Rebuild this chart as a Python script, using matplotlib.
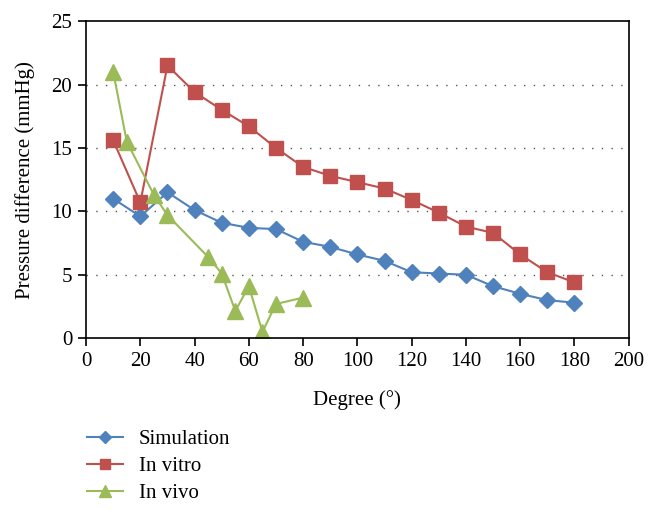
import matplotlib
matplotlib.use("Agg")
import matplotlib.pyplot as plt

# data
sim_x = [10, 20, 30, 40, 50, 60, 70, 80, 90, 100, 110, 120, 130, 140, 150, 160, 170, 180]
sim_y = [11.0, 9.6, 11.5, 10.1, 9.1, 8.7, 8.6, 7.6, 7.2, 6.6, 6.1, 5.2, 5.1, 5.0, 4.1, 3.5, 3.0, 2.8]

vitro_x = [10, 20, 30, 40, 50, 60, 70, 80, 90, 100, 110, 120, 130, 140, 150, 160, 170, 180]
vitro_y = [15.6, 10.7, 21.5, 19.4, 18.0, 16.7, 15.0, 13.5, 12.8, 12.3, 11.8, 10.9, 9.9, 8.8, 8.3, 6.6, 5.2, 4.4]

vivo_x = [10, 15, 25, 30, 45, 50, 55, 60, 65, 70, 80]
vivo_y = [21.0, 15.5, 11.3, 9.7, 6.4, 5.1, 2.15, 4.1, 0.5, 2.7, 3.2]

plt.rcParams['font.family'] = ['Liberation Serif', 'DejaVu Serif']

fig = plt.figure(figsize=(6.57, 5.14), dpi=100)
ax = fig.add_axes([0.131, 0.342, 0.826, 0.617])

l1, = ax.plot(sim_x, sim_y, color='#4F81BD', marker='D', markersize=8, linewidth=1.5, label='Simulation')
l2, = ax.plot(vitro_x, vitro_y, color='#C0504D', marker='s', markersize=10.5, linewidth=1.5, label='In vitro')
l3, = ax.plot(vivo_x, vivo_y, color='#9BBB59', marker='^', markersize=11, linewidth=1.5, label='In vivo')

ax.set_xlim(0, 200)
ax.set_ylim(0, 25)
ax.set_xticks(range(0, 201, 20))
ax.set_yticks(range(0, 26, 5))
ax.tick_params(labelsize=15, direction='out', length=6, width=1.2, pad=4)
for s in ax.spines.values():
    s.set_linewidth(1.2)

# dotted horizontal grid
for v in [5, 10, 15, 20]:
    ax.axhline(v, color='#555555', linestyle=(0, (1, 6)), linewidth=1, zorder=0)

ax.set_xlabel('Degree (°)', fontsize=15, labelpad=14)
ax.set_ylabel('Pressure difference (mmHg)', fontsize=15, labelpad=12)

fig.legend(handles=[l1, l2, l3], loc='upper left', bbox_to_anchor=(0.132, 0.164),
           frameon=False, fontsize=15, handlelength=1.75, labelspacing=0.35,
           handletextpad=0.75, borderaxespad=0, borderpad=0, markerscale=0.75)

fig.savefig('out.png', dpi=100)
